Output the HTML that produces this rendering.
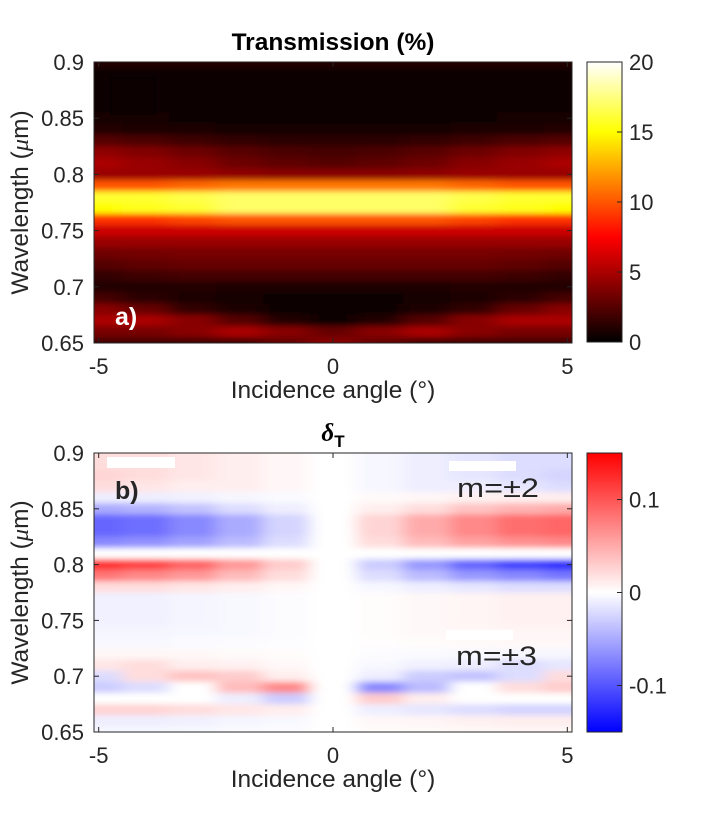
<!DOCTYPE html>
<html><head><meta charset="utf-8"><style>
body{margin:0;background:#fff;}
svg{display:block;font-family:"Liberation Sans",Arial,sans-serif;}
</style></head><body>
<svg id="fig" width="725" height="823" viewBox="0 0 725 823">
<defs>
<filter id="blurA" filterUnits="userSpaceOnUse" x="0" y="0" width="725" height="823"><feGaussianBlur stdDeviation="10 3"/></filter>
<filter id="blurB" filterUnits="userSpaceOnUse" x="0" y="0" width="725" height="823"><feGaussianBlur stdDeviation="8 3"/></filter>
<clipPath id="clipA"><rect x="94" y="62" width="478" height="281"/></clipPath>
<clipPath id="clipB"><rect x="94" y="453" width="478" height="279"/></clipPath>
<linearGradient id="hotGrad" x1="0" y1="1" x2="0" y2="0">
<stop offset="0" stop-color="#000"/><stop offset="0.375" stop-color="#f00"/><stop offset="0.75" stop-color="#ff0"/><stop offset="1" stop-color="#fff"/>
</linearGradient>
<linearGradient id="bwrGrad" x1="0" y1="1" x2="0" y2="0">
<stop offset="0" stop-color="#00f"/><stop offset="0.5" stop-color="#fff"/><stop offset="1" stop-color="#f00"/>
</linearGradient>
</defs>
<g id="plotA"></g>
<g id="plotB"></g>
</svg>
<script>
// ----- data -----
const wavelengths = [0.90,0.89,0.88,0.87,0.86,0.85,0.84,0.83,0.82,0.81,0.80,0.79,0.78,0.77,0.76,0.75,0.74,0.73,0.72,0.71,0.70,0.69,0.68,0.67,0.66,0.65];
const anglesA = [0,1,2,3,4,5]; // |theta|, mirrored
const transmission = [
 [1,1,1,1,1,1],
 [0.5,0.5,0.5,0.5,0.5,0.5],
 [0.3,0.3,0.3,0.3,0.3,0.3],
 [0.3,0.3,0.3,0.3,0.3,0.3],
 [0.3,0.3,0.3,0.35,0.4,0.4],
 [0.4,0.4,0.45,0.5,0.6,0.7],
 [0.6,0.6,0.7,0.8,0.9,1],
 [1.2,1.3,1.5,1.8,2.2,2.5],
 [2.0,2.2,2.6,3.2,3.8,4.2],
 [2.5,2.8,3.2,4,4.5,5],
 [4,4,4.2,4.5,4.5,4.5],
 [11,11,11,10.5,10,10],
 [17,17,17,16.5,16,16],
 [17,17,17,16,15.5,15],
 [10,10,10,9.5,9,9],
 [6,6,6,6,6,6],
 [4.5,4.5,4.5,4.5,4.5,4.5],
 [3.5,3.5,3.5,3.5,3.4,3.3],
 [3,3,3,3,2.8,2.5],
 [2,2,2,2,1.8,1.5],
 [0.8,0.8,0.9,1,1,1],
 [0.5,0.5,0.6,0.8,1.2,2],
 [0.3,0.5,0.8,1.5,3,4],
 [0.5,1,2.5,4,5,5],
 [3,4,5,4,3.5,3.5],
 [4,3,2,2,2,2]
];
const anglesB = [-5,-4,-3,-2,-1,0]; // left side; right side is antisymmetric
const deltaT = [
 [0.02,0.02,0.015,0.01,0.005,0],
 [0.02,0.02,0.015,0.01,0.005,0],
 [0.025,0.02,0.015,0.01,0.005,0],
 [0.02,0.015,0.01,0.01,0.005,0],
 [-0.01,-0.01,-0.008,-0.005,-0.003,0],
 [-0.05,-0.045,-0.035,-0.02,-0.01,0],
 [-0.09,-0.085,-0.07,-0.05,-0.025,0],
 [-0.09,-0.085,-0.07,-0.05,-0.025,0],
 [-0.07,-0.065,-0.055,-0.04,-0.02,0],
 [0,0,0,0,0,0],
 [0.12,0.11,0.09,0.06,0.03,0],
 [0.08,0.07,0.06,0.04,0.02,0],
 [0.02,0.02,0.015,0.01,0.005,0],
 [-0.008,-0.008,-0.006,-0.004,-0.002,0],
 [-0.008,-0.008,-0.006,-0.004,-0.002,0],
 [-0.008,-0.008,-0.006,-0.004,-0.002,0],
 [-0.006,-0.006,-0.005,-0.004,-0.002,0],
 [-0.004,-0.004,-0.003,-0.002,-0.001,0],
 [0.005,0.005,0.004,0.003,0.002,0],
 [0.015,0.02,0.01,0.008,0.004,0],
 [-0.02,0.02,0.035,0.03,0.01,0],
 [-0.03,-0.02,0,0.04,0.07,0],
 [0,0,0,-0.01,-0.03,0],
 [0.025,0.025,0.02,0.015,0.01,0],
 [-0.01,-0.01,-0.008,-0.006,-0.004,0],
 [-0.005,-0.005,-0.004,-0.003,-0.002,0]
];
const xTicks = [-5,0,5];
const yTicks = [0.9,0.85,0.8,0.75,0.7,0.65];
const yTickLabels = ["0.9","0.85","0.8","0.75","0.7","0.65"];
const cbTicksA = [0,5,10,15,20];
const cbTicksB = [-0.1,0,0.1];
const cbTickLabelsB = ["-0.1","0","0.1"];

// ----- helpers -----
const NS="http://www.w3.org/2000/svg";
function mk(tag,attrs,parent){const e=document.createElementNS(NS,tag);for(const k in attrs)e.setAttribute(k,attrs[k]);parent.appendChild(e);return e;}
const X0=94,X1=572,XMIN=-5.1,XMAX=5.1;
function xs(v){return X0+(v-XMIN)/(XMAX-XMIN)*(X1-X0);}
function ysFor(top,bot){return v=>top+(0.9-v)/(0.25)*(bot-top);}
function hot(v){let t=Math.max(0,Math.min(1,v/20));let r=Math.min(1,t/0.375),g=Math.max(0,Math.min(1,(t-0.375)/0.375)),b=Math.max(0,(t-0.75)/0.25);return `rgb(${Math.round(r*255)},${Math.round(g*255)},${Math.round(b*255)})`;}
function bwr(v){let t=Math.max(-1,Math.min(1,v/0.15));if(t>=0){const c=Math.round(255*(1-t));return `rgb(255,${c},${c})`;}const c=Math.round(255*(1+t));return `rgb(${c},${c},255)`;}

function drawAxes(g,top,bot,pfx){
  const ys=ysFor(top,bot);
  mk('rect',{x:X0,y:top,width:X1-X0,height:bot-top,fill:'none',stroke:'#262626','stroke-width':1},g);
  xTicks.forEach(t=>{const x=xs(t);
    mk('line',{x1:x,y1:bot,x2:x,y2:bot-5,stroke:'#262626'},g);
    mk('line',{x1:x,y1:top,x2:x,y2:top+5,stroke:'#262626'},g);
    const tx=mk('text',{x:x,y:bot+31,'font-size':22,'text-anchor':'middle',fill:'#262626'},g);tx.textContent=t;
    });
  yTicks.forEach((t,i)=>{const y=ys(t);
    mk('line',{x1:X0,y1:y,x2:X0+5,y2:y,stroke:'#262626'},g);
    mk('line',{x1:X1,y1:y,x2:X1-5,y2:y,stroke:'#262626'},g);
    const tx=mk('text',{x:84,y:y+8,'font-size':22,'text-anchor':'end',fill:'#262626'},g);tx.textContent=yTickLabels[i];
    });
  const xl=mk('text',{x:333,y:bot+55,'font-size':24.5,'text-anchor':'middle',fill:'#262626'},g);xl.textContent='Incidence angle (°)';
  
  const cy=(top+bot)/2;
  const yl=mk('text',{x:0,y:0,'font-size':24.5,'text-anchor':'middle',fill:'#262626',transform:`translate(28,${cy}) rotate(-90)`},g);
  yl.innerHTML='Wavelength (<tspan font-family="Liberation Serif" font-style="italic">μ</tspan>m)';
  
}

function drawCells(g,top,bot,cols,rowsVals,colorFn){
  const ys=ysFor(top,bot);
  cols.forEach((a,j)=>{
    rowsVals.forEach((row,i)=>{
      const lam=wavelengths[i];
      let y0=ys(lam+0.005),y1=ys(lam-0.005);
      if(i===0)y0-=30; if(i===wavelengths.length-1)y1+=30;
      let x0=xs(a.angle-0.5),x1=xs(a.angle+0.5);
      if(a.edgeL)x0-=40; if(a.edgeR)x1+=40;
      const r=mk('rect',{x:x0,y:y0,width:x1-x0+0.5,height:y1-y0+0.5,fill:colorFn(a.get(row))},g);
      
      
    });
  });
}

// ----- plot A -----
(function(){
  const g=document.getElementById('plotA');
  
  const top=62,bot=343;
  const clip=mk('g',{'clip-path':'url(#clipA)'},g);
  const hg=mk('g',{filter:'url(#blurA)'},clip);
  
  
  const cols=[];
  for(let s=-5;s<=5;s++){const idx=anglesA.indexOf(Math.abs(s));cols.push({angle:s,edgeL:s===-5,edgeR:s===5,get:row=>row[idx]});}
  drawCells(hg,top,bot,cols,transmission,hot);
  drawAxes(g,top,bot,'transmission');
  const t=mk('text',{x:333,y:50,'font-size':24.5,'font-weight':'bold','text-anchor':'middle',fill:'#000'},g);t.textContent='Transmission (%)';
  
  const a=mk('text',{x:115,y:325,'font-size':25,'font-weight':'bold',fill:'#fff'},g);a.textContent='a)';
  
  mk('rect',{x:111,y:78,width:44,height:36,fill:'none',stroke:'#000','stroke-width':1},g);
  const cb=mk('rect',{x:587,y:top,width:35,height:bot-top-1,fill:'url(#hotGrad)',stroke:'#262626'},g);
  
  cbTicksA.forEach(v=>{const y=bot-1-(v/20)*(bot-1-top);
    mk('line',{x1:617,y1:y,x2:622,y2:y,stroke:'#262626'},g);
    const tx=mk('text',{x:629,y:y+8,'font-size':22,fill:'#262626'},g);tx.textContent=v;
    });
})();

// ----- plot B -----
(function(){
  const g=document.getElementById('plotB');
  
  const top=453,bot=732;
  const clip=mk('g',{'clip-path':'url(#clipB)'},g);
  const hg=mk('g',{filter:'url(#blurB)'},clip);
  
  
  const cols=[];
  for(let s=-5;s<=5;s++){const idx=anglesB.indexOf(-Math.abs(s));const sign=s>0?-1:1;cols.push({angle:s,edgeL:s===-5,edgeR:s===5,get:row=>sign*row[idx]});}
  drawCells(hg,top,bot,cols,deltaT,bwr);
  mk('rect',{x:xs(-0.12),y:top,width:xs(0.12)-xs(-0.12),height:bot-top,fill:'#fff'},clip);
  mk('rect',{x:107,y:457,width:68,height:11,fill:'#fff'},clip);
  mk('rect',{x:449,y:461,width:67,height:10,fill:'#fff'},clip);
  mk('rect',{x:446,y:630,width:67,height:10,fill:'#fff'},clip);
  drawAxes(g,top,bot,'delta-t');
  const t=mk('text',{x:333,y:441,'font-size':25,'font-weight':'bold','text-anchor':'middle',fill:'#000'},g);
  t.innerHTML='<tspan font-family="Liberation Serif" font-style="italic">δ</tspan><tspan font-size="17" dy="6">T</tspan>';
  
  const b=mk('text',{x:115,y:499,'font-size':25,'font-weight':'bold',fill:'#262626'},g);b.textContent='b)';
  
  const m2=mk('text',{x:457,y:497,'font-size':27,textLength:82,lengthAdjust:'spacingAndGlyphs',fill:'#262626'},g);m2.textContent='m=±2';
  
  const m3=mk('text',{x:456,y:665,'font-size':27,textLength:81,lengthAdjust:'spacingAndGlyphs',fill:'#262626'},g);m3.textContent='m=±3';
  
  const cb=mk('rect',{x:587,y:top,width:35,height:bot-top,fill:'url(#bwrGrad)',stroke:'#262626'},g);
  
  cbTicksB.forEach((v,i)=>{const y=top+(0.15-v)/0.30*(bot-top);
    mk('line',{x1:617,y1:y,x2:622,y2:y,stroke:'#262626'},g);
    const tx=mk('text',{x:629,y:y+8,'font-size':22,fill:'#262626'},g);tx.textContent=cbTickLabelsB[i];
    });
})();
</script>
</body></html>
